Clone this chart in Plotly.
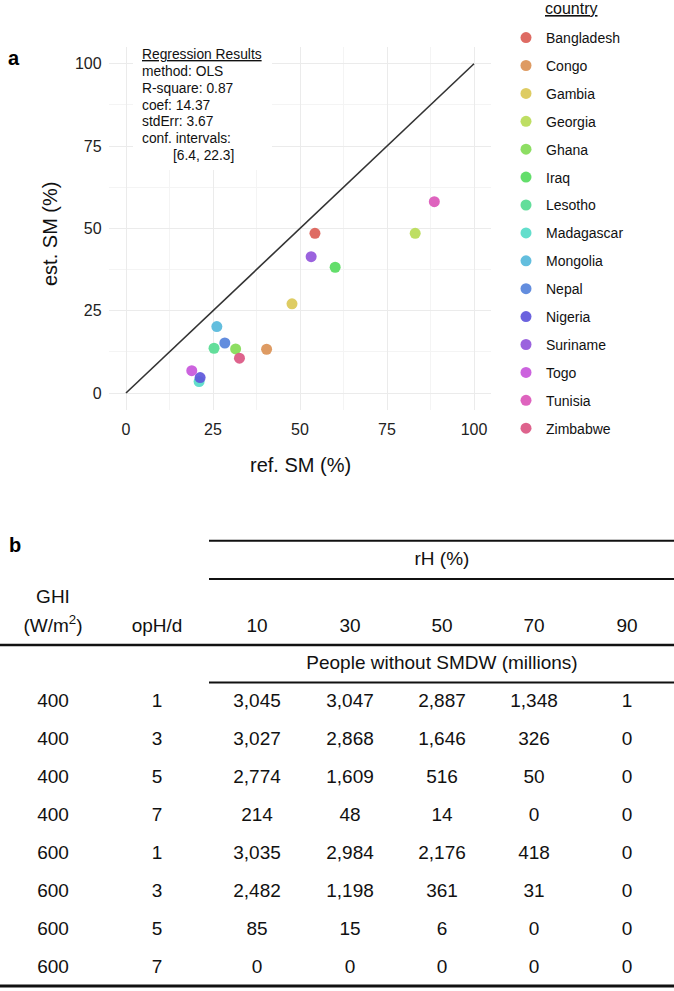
import colorsys
import plotly.graph_objects as go

# ---------------- data: panel a ----------------
countries = ["Bangladesh", "Congo", "Gambia", "Georgia", "Ghana", "Iraq", "Lesotho",
             "Madagascar", "Mongolia", "Nepal", "Nigeria", "Suriname", "Togo",
             "Tunisia", "Zimbabwe"]
ref_sm = [54.3, 40.4, 47.7, 83.1, 31.5, 60.1, 25.3, 21.0, 26.1, 28.4, 21.3, 53.2, 18.9, 88.6, 32.6]
est_sm = [48.5, 13.3, 27.1, 48.5, 13.4, 38.2, 13.6, 3.5, 20.2, 15.2, 4.7, 41.4, 6.8, 58.1, 10.6]
diag_x = [0, 100]
diag_y = [0, 100]
axis_ticks = [0, 25, 50, 75, 100]

reg_lines = ["<u>Regression Results</u>", "method: OLS", "R-square: 0.87", "coef: 14.37",
             "stdErr: 3.67", "conf. intervals:", "[6.4, 22.3]"]

# ---------------- data: panel b ----------------
ghi = [400, 400, 400, 400, 600, 600, 600, 600]
oph = [1, 3, 5, 7, 1, 3, 5, 7]
rh_levels = [10, 30, 50, 70, 90]
people = [
    [3045, 3047, 2887, 1348, 1],
    [3027, 2868, 1646, 326, 0],
    [2774, 1609, 516, 50, 0],
    [214, 48, 14, 0, 0],
    [3035, 2984, 2176, 418, 0],
    [2482, 1198, 361, 31, 0],
    [85, 15, 6, 0, 0],
    [0, 0, 0, 0, 0],
]

# ---------------- style ----------------
W, H = 674, 991
FONT = "Liberation Sans, Arial, sans-serif"
n = len(countries)
colors = []
for i in range(n):
    h = (i / n + 0.01) % 1
    r, g, b = colorsys.hls_to_rgb(h, 0.6, 0.65)
    colors.append("#%02x%02x%02x" % (int(r * 255), int(g * 255), int(b * 255)))

def px_x(p):
    return p / W

def px_y(p):
    return 1 - p / H

fig = go.Figure()

# diagonal reference line
fig.add_trace(go.Scatter(x=diag_x, y=diag_y, mode="lines",
                         line=dict(color="#333333", width=1.6),
                         showlegend=False, hoverinfo="skip"))

# country points
for i, c in enumerate(countries):
    fig.add_trace(go.Scatter(x=[ref_sm[i]], y=[est_sm[i]], mode="markers", name=c,
                             legendgroup=c,
                             marker=dict(size=11, color=colors[i], opacity=0.92,
                                         line=dict(width=0))))

# ---------------- table (panel b) on hidden axes ----------------
COL_X = [53, 157, 257, 350, 442, 534, 627]   # column centres (layout)
cell_x, cell_y, cell_t = [], [], []
for r in range(len(ghi)):
    cell_x += [COL_X[0], COL_X[1]]
    cell_y += [r, r]
    cell_t += [str(ghi[r]), str(oph[r])]
    for j, v in enumerate(people[r]):
        cell_x.append(COL_X[2 + j])
        cell_y.append(r)
        cell_t.append(f"{v:,}")

# header row positions in row-index units (layout)
Y_TOPLINE, Y_RH, Y_RHLINE = -4.263, -3.755, -3.255
Y_GHI1, Y_HDR, Y_THICK = -2.747, -1.992, -1.518
Y_PEOPLE, Y_PLINE, Y_BOTTOM = -1.018, -0.534, 7.455

hdr_x = [COL_X[0], COL_X[0], COL_X[1]] + [COL_X[2 + j] for j in range(len(rh_levels))]
hdr_y = [Y_GHI1, Y_HDR, Y_HDR] + [Y_HDR] * len(rh_levels)
hdr_t = ["GHI", "(W/m<sup>2</sup>)", "opH/d"] + [str(v) for v in rh_levels]
hdr_x += [(COL_X[2] + COL_X[6]) / 2, (COL_X[2] + COL_X[6]) / 2]
hdr_y += [Y_RH, Y_PEOPLE]
hdr_t += ["rH (%)", "People without SMDW (millions)"]

fig.add_trace(go.Scatter(x=cell_x + hdr_x, y=cell_y + hdr_y, text=cell_t + hdr_t,
                         mode="text", textposition="middle center",
                         textfont=dict(family=FONT, size=19, color="#111111"),
                         xaxis="x2", yaxis="y2", showlegend=False, hoverinfo="skip"))

shapes = []
def hline(y, x0, x1, w):
    shapes.append(dict(type="line", xref="x2", yref="y2", x0=x0, x1=x1, y0=y, y1=y,
                       line=dict(color="#111111", width=w)))
hline(Y_TOPLINE, 209, W, 2)
hline(Y_RHLINE, 209, W, 2)
hline(Y_THICK, 0, W, 2.6)
hline(Y_PLINE, 209, W, 2)
hline(Y_BOTTOM, 0, W, 3)

# white box behind regression text
shapes.append(dict(type="rect", xref="paper", yref="paper",
                   x0=px_x(133), x1=px_x(272), y0=px_y(170), y1=px_y(44),
                   fillcolor="white", line=dict(width=0), layer="above"))

annotations = []
for i, t in enumerate(reg_lines):
    xx = 171 if t.startswith("[") else 140
    annotations.append(dict(text=t, xref="paper", yref="paper", x=px_x(xx), y=px_y(55 + 16.67 * i),
                            xanchor="left", yanchor="middle", showarrow=False,
                            font=dict(family=FONT, size=13.8, color="#111111")))

annotations += [
    dict(text="<b>a</b>", xref="paper", yref="paper", x=px_x(14), y=px_y(58),
         xanchor="center", yanchor="middle", showarrow=False,
         font=dict(family=FONT, size=20, color="#000000")),
    dict(text="<b>b</b>", xref="paper", yref="paper", x=px_x(15), y=px_y(545),
         xanchor="center", yanchor="middle", showarrow=False,
         font=dict(family=FONT, size=20, color="#000000")),
    dict(text="est. SM (%)", xref="paper", yref="paper", x=px_x(50), y=px_y(234),
         xanchor="center", yanchor="middle", textangle=-90, showarrow=False,
         font=dict(family=FONT, size=20, color="#111111")),
    dict(text="ref. SM (%)", xref="paper", yref="paper", x=px_x(300), y=px_y(465),
         xanchor="center", yanchor="middle", showarrow=False,
         font=dict(family=FONT, size=20, color="#111111")),
    dict(text="<u>country</u>", xref="paper", yref="paper", x=px_x(543), y=px_y(8),
         xanchor="left", yanchor="middle", showarrow=False,
         font=dict(family=FONT, size=16, color="#111111")),
]

axis_common = dict(range=[-5, 105], tickmode="array", tickvals=axis_ticks,
                   showgrid=True, gridcolor="#EBEBEB", gridwidth=1.2,
                   zeroline=False, showline=False, ticks="",
                   tickfont=dict(family=FONT, size=16, color="#222222"),
                   minor=dict(tickmode="array", tickvals=[12.5, 37.5, 62.5, 87.5],
                              showgrid=True, gridcolor="#F4F4F4", gridwidth=0.8))

fig.update_layout(
    width=W, height=H,
    margin=dict(l=0, r=0, t=0, b=0, pad=0),
    paper_bgcolor="white", plot_bgcolor="white",
    font=dict(family=FONT, color="#111111"),
    xaxis=dict(domain=[px_x(108.6), px_x(491.4)], ticklabelstandoff=8, **axis_common),
    yaxis=dict(domain=[px_y(409.5), px_y(47.3)], ticklabelstandoff=6, **axis_common),
    xaxis2=dict(domain=[0, 1], range=[0, W], visible=False, anchor="y2"),
    yaxis2=dict(domain=[0, px_y(520)], range=[7.587, -4.808], visible=False, anchor="x2"),
    legend=dict(x=px_x(506), y=px_y(22), xanchor="left", yanchor="top",
                traceorder="grouped", tracegroupgap=6.7,
                font=dict(family=FONT, size=14, color="#111111"),
                bgcolor="rgba(0,0,0,0)", borderwidth=0),
    shapes=shapes,
    annotations=annotations,
)

fig.write_html("out.html", config={"displayModeBar": False},
               post_script="document.body.style.margin='0';document.body.style.overflow='hidden';")
